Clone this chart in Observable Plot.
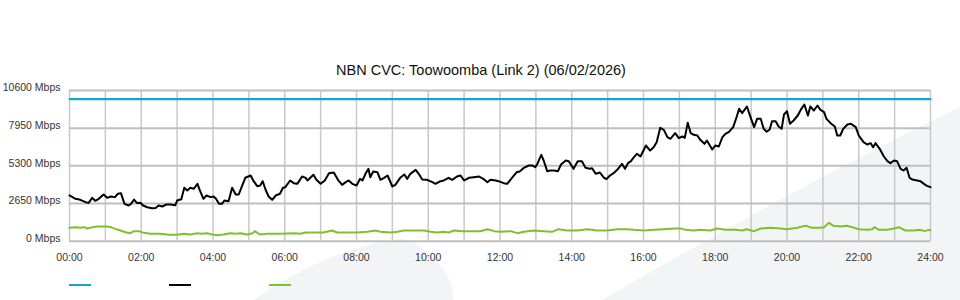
<!DOCTYPE html>
<html><head><meta charset="utf-8">
<script src="https://cdn.jsdelivr.net/npm/d3@7"></script>
<script src="https://cdn.jsdelivr.net/npm/@observablehq/plot@0.6"></script>
<style>
body{margin:0;background:#fff;}
#wrap{position:relative;width:960px;height:300px;overflow:hidden;font-family:"Liberation Sans",Arial,sans-serif;}
.wm{position:absolute;left:0;top:0;width:960px;height:300px;background:#f3f4f6;}
#title{position:absolute;left:0;top:61px;width:962px;text-align:center;font-size:14.5px;color:#111;line-height:18px;}
#chart{position:absolute;left:0;top:80px;}
.sw{position:absolute;top:284px;width:22px;height:2px;}
</style></head><body>
<div id="wrap">
 <div class="wm" style="clip-path:path('M602,300 Q790,190 960,107 L960,300 Z')"></div>
 <div class="wm" style="clip-path:path('M253,300 C300,268 350,245 400,239 L412,241 C430,252 448,268 453,290 L453,300 Z')"></div>
 <div id="title"></div>
 <div id="chart"></div>
 <div id="legend"></div>
</div>
<script>
const titleText = "NBN CVC: Toowoomba (Link 2) (06/02/2026)";
const yTicks = [0, 2650, 5300, 7950, 10600];
const xLabelTicks = [0, 120, 240, 360, 480, 600, 720, 840, 960, 1080, 1200, 1320, 1440];
const xGridTicks = [0,60,120,180,240,300,360,420,480,540,600,660,720,780,840,900,960,1020,1080,1140,1200,1260,1320,1380,1440];
const seriesNames = ["Capacity", "Download", "Upload"];
const seriesColors = ["#1ca0dc", "#000000", "#7ec12d"];

const capacityMinutes = [0, 1440];
const capacityMbps = [10000, 10000];

const downMinutes = [0,10,18,27,32,38,43,49,57,63,69,76,81,86,92,99,103,108,113,119,123,130,138,144,149,155,162,169,177,180,187,192,197,202,208,214,218,224,229,236,241,245,250,255,259,266,272,278,283,289,294,303,308,314,319,323,328,333,339,345,352,357,361,369,375,381,389,395,398,408,413,420,427,434,442,449,456,462,467,473,480,486,490,495,500,503,508,515,520,526,532,540,545,553,560,565,570,579,584,590,598,607,612,619,626,634,640,648,654,660,668,676,685,692,699,704,713,721,726,732,740,748,753,760,768,774,779,783,789,793,799,804,810,817,822,830,835,843,850,857,863,870,874,880,887,894,898,904,910,916,924,929,934,939,944,949,955,964,971,977,982,988,994,1000,1005,1013,1019,1025,1029,1034,1039,1044,1050,1055,1062,1066,1075,1080,1086,1092,1097,1103,1110,1116,1120,1125,1133,1139,1145,1150,1156,1161,1166,1171,1175,1181,1186,1191,1195,1200,1205,1211,1218,1224,1229,1235,1239,1245,1251,1256,1262,1266,1273,1280,1284,1289,1294,1301,1307,1315,1320,1328,1334,1340,1344,1348,1355,1362,1368,1373,1379,1384,1390,1395,1400,1405,1411,1418,1423,1429,1434,1440];
const downMbps = [3215,2980,2910,2745,2695,3050,2840,2980,3285,3050,3145,3100,3335,3380,2630,2510,2630,2930,2680,2700,2510,2390,2320,2340,2510,2440,2580,2580,2530,2860,2955,3755,3570,3755,3690,4035,3570,2980,3215,3100,3145,2980,2630,2630,2860,2815,3755,3285,3285,3920,4460,4620,4220,3870,3920,4220,3620,3145,2910,3215,3335,3755,3800,4270,4082,4035,4551,4457,4270,4668,4317,4035,4270,4786,4832,4317,3965,4152,4270,4035,3918,4387,4270,4739,5090,4504,4903,4856,4317,4457,4621,3848,3965,4457,4692,4387,4739,5020,4739,4340,4317,4152,4035,4199,4270,4457,4317,4551,4621,4270,4457,4504,4551,4387,4152,4317,4270,4170,4082,4035,4457,4856,4903,5161,5325,5325,5207,5489,6075,5677,4926,4973,4973,4926,5395,5677,5630,5090,5630,5630,5161,5090,5137,4739,4832,4457,4363,4621,4786,5020,5442,5090,5489,5630,5911,6146,5958,6732,6380,6614,6966,7974,7834,7318,7201,7599,7247,7365,7271,8326,7599,7482,7435,7130,6849,7083,6450,6732,6661,7318,7552,7693,8021,8771,9311,9006,9475,8724,8021,8607,8607,7904,7693,7857,8443,8443,8068,7904,8912,9146,8256,8490,8842,9311,9616,8842,9475,9194,9545,9240,9076,8607,8302,8068,7435,7435,7904,8209,8256,8021,7435,6966,6802,6896,6614,6896,6497,5958,5630,5489,5677,5630,5090,4973,5161,4457,4317,4270,4223,4035,3895,3801];

const upMinutes = [0,10,18,24,30,38,46,63,69,77,85,94,102,108,116,124,135,152,166,180,191,202,214,222,230,239,247,258,269,278,286,297,306,310,318,331,353,375,386,395,409,425,439,448,464,481,498,512,520,537,548,559,576,593,604,615,626,634,643,657,676,687,699,710,721,738,749,760,777,793,807,818,832,849,866,882,899,916,933,944,961,977,994,1013,1022,1030,1044,1055,1072,1083,1097,1114,1125,1133,1145,1156,1172,1189,1200,1217,1231,1242,1256,1262,1270,1278,1290,1300,1309,1320,1334,1343,1346,1354,1368,1379,1387,1398,1412,1423,1430,1437,1440];
const upMbps = [940,987,940,987,893,987,1034,1034,987,870,753,635,565,706,706,588,518,518,448,448,518,471,565,518,565,471,424,471,565,518,565,471,565,706,471,518,518,565,518,612,612,612,753,612,612,612,659,753,659,612,659,753,753,753,659,612,659,612,753,706,706,706,846,706,659,706,565,659,753,706,659,846,753,753,846,753,753,846,846,799,753,799,846,893,893,799,753,799,753,893,799,799,753,846,706,893,940,893,846,940,1081,940,940,987,1292,1081,1034,1081,987,846,799,846,987,799,799,893,987,753,753,799,706,799,753];

const toRows = (ms, vs, s) => ms.map((m, i) => ({minute: m, mbps: vs[i], series: s}));
const capacity = toRows(capacityMinutes, capacityMbps, seriesNames[0]);
const download = toRows(downMinutes, downMbps, seriesNames[1]);
const upload = toRows(upMinutes, upMbps, seriesNames[2]);

document.getElementById("title").textContent = titleText;

const fmtTime = m => String(Math.floor(m / 60)).padStart(2, "0") + ":" + String(m % 60).padStart(2, "0");

const chart = Plot.plot({
  width: 960,
  height: 190,
  marginLeft: 69,
  marginRight: 30,
  marginTop: 10,
  marginBottom: 29.3,
  style: {background: "transparent", fontFamily: "'Liberation Sans', Arial, sans-serif", fontSize: "10.5px", color: "#333", overflow: "visible"},
  x: {type: "linear", domain: [0, 1440], label: null},
  y: {domain: [0, 10600], label: null},
  marks: [
    Plot.ruleX(xGridTicks, {x: d => d, stroke: "#c8c8c8", strokeWidth: 1.5}),
    Plot.ruleY(yTicks, {y: d => d, stroke: "#bfbfbf", strokeWidth: 2}),
    Plot.axisX({ticks: xLabelTicks, tickFormat: fmtTime, tickSize: 0, tickPadding: 12, label: null}),
    Plot.axisY({ticks: yTicks, tickFormat: v => `${v} Mbps`, tickSize: 0, tickPadding: 9, dy: -2.5, label: null}),
    Plot.line(upload, {x: "minute", y: "mbps", stroke: seriesColors[2], strokeWidth: 2}),
    Plot.line(capacity, {x: "minute", y: "mbps", stroke: seriesColors[0], strokeWidth: 2.2}),
    Plot.line(download, {x: "minute", y: "mbps", stroke: seriesColors[1], strokeWidth: 2})
  ]
});
document.getElementById("chart").appendChild(chart);

const legend = document.getElementById("legend");
seriesColors.forEach((c, i) => {
  const d = document.createElement("div");
  d.className = "sw";
  d.style.left = (69 + i * 100) + "px";
  d.style.background = c;
  d.title = seriesNames[i];
  legend.appendChild(d);
});
</script>
</body></html>
